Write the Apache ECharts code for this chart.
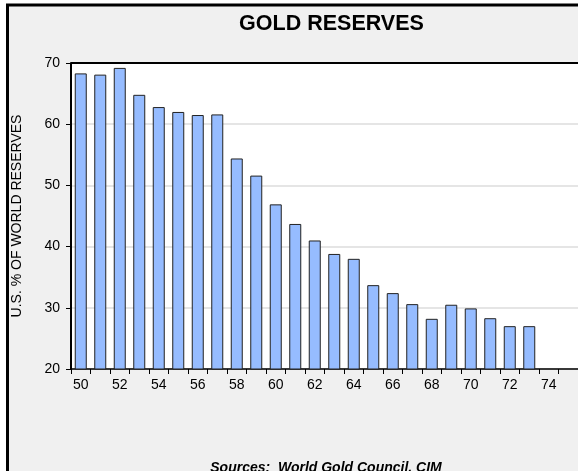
<!DOCTYPE html>
<html>
<head>
<meta charset="utf-8">
<script src="https://cdn.jsdelivr.net/npm/echarts@6/dist/echarts.min.js"></script>
<style>html,body{margin:0;padding:0;background:#fff}#c{width:578px;height:471px}</style>
</head>
<body>
<div id="c"></div>
<script>
var years = ['50','51','52','53','54','55','56','57','58','59','60','61','62','63','64','65','66','67','68','69','70','71','72','73','74','75'];
var usShare = [68.3,68.1,69.2,64.8,62.8,62.0,61.5,61.6,54.4,51.6,46.9,43.7,41.0,38.8,38.0,33.7,32.4,30.6,28.2,30.5,29.9,28.3,27.0,27.0,null,null];
var yTicks = [20,30,40,50,60,70];

var font = '"Liberation Sans", Arial, sans-serif';
var chart = echarts.init(document.getElementById('c'), null, {renderer:'canvas'});
chart.setOption({
  backgroundColor: '#ffffff',
  animation: false,
  graphic: [{
    type: 'rect', z: -10, silent: true,
    shape: {x: 7.5, y: 5, width: 620, height: 520},
    style: {fill: '#f0f0f0', stroke: '#000', lineWidth: 3}
  },{
    type: 'line', z: 10, silent: true,
    shape: {x1: 71, y1: 63, x2: 582, y2: 63},
    style: {stroke: '#000', lineWidth: 2}
  }],
  title: [{
    text: 'GOLD RESERVES',
    left: 326.5, top: 8, textAlign: 'center',
    textStyle: {fontFamily: font, fontSize: 21.5, fontWeight: 'bold', color: '#000'}
  },{
    text: 'Sources:  World Gold Council, CIM',
    left: 321, top: 456, textAlign: 'center',
    textStyle: {fontFamily: font, fontSize: 14, fontWeight: 'bold', fontStyle: 'italic', color: '#000'}
  }],
  grid: {
    left: 71, top: 63, width: 511, height: 306,
    show: true, backgroundColor: '#ffffff', borderWidth: 0
  },
  xAxis: {
    type: 'category', data: years, boundaryGap: true,
    axisLine: {lineStyle: {color: '#000', width: 1.5}},
    axisTick: {show: true, interval: 0, length: 5, lineStyle: {color: '#000', width: 1}},
    axisLabel: {interval: 1, margin: 9, fontFamily: font, fontSize: 14, color: '#000'},
    splitLine: {show: false}
  },
  yAxis: {
    type: 'value', min: yTicks[0], max: yTicks[yTicks.length-1], interval: 10,
    name: 'U.S. % OF WORLD RESERVES', nameLocation: 'middle', nameRotate: 90, nameGap: 47,
    nameTextStyle: {fontFamily: font, fontSize: 14, color: '#000'},
    axisLine: {show: true, lineStyle: {color: '#000', width: 2}},
    axisTick: {show: true, length: 5, lineStyle: {color: '#000', width: 1}},
    axisLabel: {margin: 11, fontFamily: font, fontSize: 14, color: '#000'},
    splitLine: {show: true, lineStyle: {color: '#dcdcdc', width: 1.5}}
  },
  series: [{
    type: 'bar', data: usShare, barWidth: 12,
    itemStyle: {color: '#96bcff', borderColor: '#222', borderWidth: 1}
  }]
});
</script>
</body>
</html>
